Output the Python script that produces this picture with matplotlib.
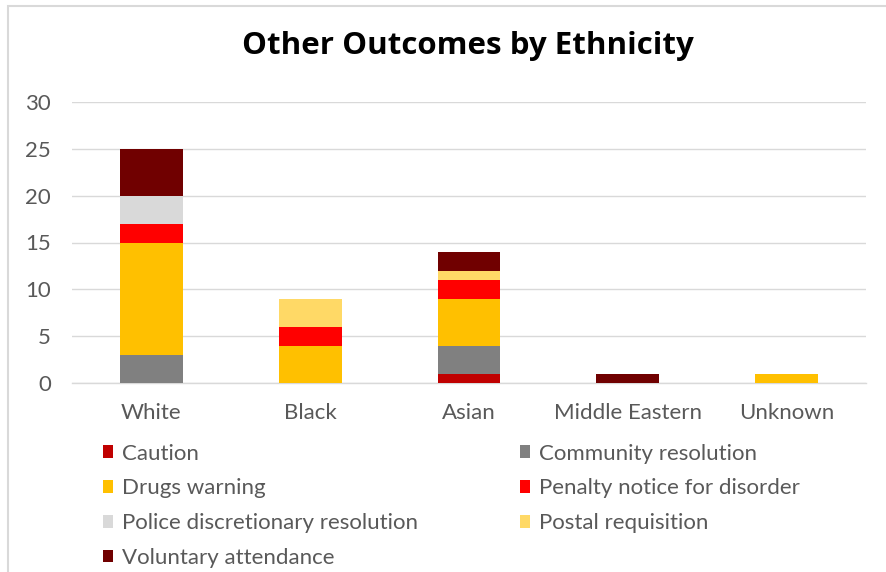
import numpy as np
import matplotlib
matplotlib.use('Agg')
import matplotlib.pyplot as plt
from matplotlib.patches import Rectangle, Patch

plt.rcParams['font.family'] = ['Lato', 'DejaVu Sans']

ethnicities = ['White', 'Black', 'Asian', 'Middle Eastern', 'Unknown']

caution = [0, 0, 1, 0, 0]
community = [3, 0, 3, 0, 0]
drugs = [12, 4, 5, 0, 1]
penalty = [2, 2, 2, 0, 0]
police = [3, 0, 0, 0, 0]
postal = [0, 3, 1, 0, 0]
voluntary = [5, 0, 2, 1, 0]

series = [
    ('Caution', caution, '#C00000'),
    ('Community resolution', community, '#808080'),
    ('Drugs warning', drugs, '#FFC000'),
    ('Penalty notice for disorder', penalty, '#FF0000'),
    ('Police discretionary resolution', police, '#D9D9D9'),
    ('Postal requisition', postal, '#FFD966'),
    ('Voluntary attendance', voluntary, '#700000'),
]

grey = '#595959'

fig = plt.figure(figsize=(8.86, 5.72), dpi=100)
ax = fig.add_axes([72/886, 1-383/572, 794/886, 281/572])

x = np.arange(len(ethnicities))
bottom = np.zeros(len(ethnicities))
for name, vals, col in series:
    vals = np.array(vals, dtype=float)
    ax.bar(x, vals, 0.395, bottom=bottom, color=col, label=name, zorder=3)
    bottom += vals

ax.set_xlim(-0.5, len(ethnicities) - 0.5)
ax.set_ylim(0, 30)
ax.set_yticks(range(0, 31, 5))
ax.set_xticks(x)
ax.set_xticklabels(ethnicities)
ax.grid(axis='y', color='#D9D9D9', linewidth=1, zorder=0)
for s in ['top', 'right', 'left']:
    ax.spines[s].set_visible(False)
ax.spines['bottom'].set_color('#D9D9D9')
ax.spines['bottom'].set_linewidth(1)
ax.tick_params(axis='both', length=0, colors=grey, labelsize=16)
ax.tick_params(axis='y', pad=15)
ax.tick_params(axis='x', pad=14.2)

fig.text(468/886, 1-46/572, 'Other Outcomes by Ethnicity', ha='center', va='center',
         fontsize=22.5, fontweight='bold', color='black', family='Open Sans')

# legend, filled row by row like the original
handles = [Patch(facecolor=c, label=n) for n, v, c in series]
left_col = handles[0::2]
right_col = handles[1::2]
kw = dict(frameon=False, fontsize=16, labelcolor=grey, handlelength=0.48,
          handleheight=0.48, handletextpad=0.4, labelspacing=0.67,
          borderaxespad=0, borderpad=0)
fig.legend(handles=left_col, loc='upper left',
           bbox_to_anchor=(102.5/886, 1-443.5/572), **kw)
fig.legend(handles=right_col, loc='upper left',
           bbox_to_anchor=(519.5/886, 1-443.5/572), **kw)

# chart frame
fig.patches.append(Rectangle((8/886, -0.05), 1.2, 1-6/572 + 0.05,
                             transform=fig.transFigure, fill=False,
                             edgecolor='#D9D9D9', linewidth=1.5))

fig.savefig('out.png', dpi=100)
